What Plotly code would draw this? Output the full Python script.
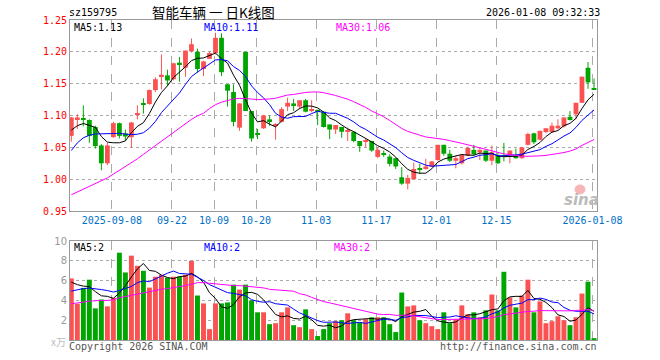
import plotly.graph_objects as go
import pandas as pd

# ---------------- data ----------------
holidays = ["2025-10-01", "2025-10-02", "2025-10-03", "2025-10-06", "2025-10-07",
            "2025-10-08", "2026-01-01", "2026-01-02"]
dates = [d.strftime("%Y-%m-%d") for d in pd.bdate_range("2025-08-28", "2026-01-08")
         if d.strftime("%Y-%m-%d") not in holidays]

opens = [1.068, 1.094, 1.096, 1.093, 1.082, 1.053, 1.025, 1.066, 1.088, 1.072,
         1.066, 1.101, 1.119, 1.118, 1.140, 1.162, 1.163, 1.157, 1.183, 1.175,
         1.201, 1.200, 1.173, 1.189, 1.198, 1.222, 1.149, 1.137, 1.081, 1.200,
         1.107, 1.072, 1.080, 1.094, 1.084, 1.090, 1.114, 1.119, 1.114, 1.124,
         1.108, 1.109, 1.106, 1.086, 1.078, 1.082, 1.0745, 1.0745, 1.060, 1.059,
         1.060, 1.035, 1.040, 1.0355, 1.033, 1.003, 0.993, 1.000, 1.017, 1.016,
         1.020, 1.030, 1.054, 1.040, 1.029, 1.025, 1.037, 1.046, 1.042, 1.045,
         1.029, 1.037, 1.036, 1.037, 1.037, 1.033, 1.054, 1.072, 1.062, 1.074,
         1.074, 1.080, 1.083, 1.098, 1.102, 1.120, 1.175, 1.142]
highs = [1.098, 1.102, 1.116, 1.094, 1.084, 1.055, 1.057, 1.090, 1.089, 1.078,
         1.090, 1.116, 1.127, 1.141, 1.160, 1.196, 1.172, 1.183, 1.192, 1.202,
         1.221, 1.205, 1.186, 1.200, 1.230, 1.229, 1.149, 1.149, 1.119, 1.200,
         1.107, 1.079, 1.101, 1.100, 1.088, 1.113, 1.128, 1.126, 1.124, 1.126,
         1.124, 1.109, 1.107, 1.086, 1.085, 1.082, 1.081, 1.0745, 1.060, 1.064,
         1.060, 1.050, 1.045, 1.039, 1.033, 1.019, 1.007, 1.026, 1.024, 1.032,
         1.028, 1.054, 1.054, 1.046, 1.037, 1.039, 1.051, 1.054, 1.050, 1.045,
         1.053, 1.041, 1.057, 1.045, 1.048, 1.050, 1.073, 1.073, 1.076, 1.080,
         1.089, 1.094, 1.097, 1.107, 1.120, 1.161, 1.184, 1.158]
lows = [1.059, 1.079, 1.083, 1.057, 1.048, 1.014, 1.022, 1.065, 1.064, 1.060,
        1.049, 1.094, 1.103, 1.117, 1.137, 1.141, 1.147, 1.155, 1.153, 1.161,
        1.199, 1.167, 1.162, 1.189, 1.196, 1.162, 1.114, 1.083, 1.076, 1.107,
        1.059, 1.063, 1.079, 1.084, 1.062, 1.089, 1.107, 1.107, 1.110, 1.105,
        1.105, 1.085, 1.081, 1.063, 1.071, 1.065, 1.060, 1.058, 1.043, 1.050,
        1.043, 1.033, 1.035, 1.020, 1.016, 0.991, 0.984, 1.000, 1.008, 1.015,
        1.019, 1.029, 1.037, 1.027, 1.017, 1.023, 1.036, 1.037, 1.030, 1.027,
        1.022, 1.024, 1.028, 1.025, 1.032, 1.032, 1.053, 1.055, 1.061, 1.072,
        1.073, 1.078, 1.081, 1.092, 1.094, 1.120, 1.142, 1.140]
closes = [1.097, 1.097, 1.093, 1.068, 1.052, 1.025, 1.053, 1.088, 1.068, 1.067,
          1.089, 1.103, 1.117, 1.140, 1.157, 1.164, 1.155, 1.182, 1.180, 1.202,
          1.212, 1.173, 1.185, 1.198, 1.222, 1.168, 1.139, 1.090, 1.119, 1.107,
          1.064, 1.070, 1.100, 1.091, 1.086, 1.110, 1.120, 1.115, 1.124, 1.106,
          1.109, 1.106, 1.082, 1.078, 1.085, 1.0745, 1.076, 1.060, 1.052, 1.060,
          1.045, 1.046, 1.0385, 1.024, 1.020, 0.993, 1.002, 1.016, 1.016, 1.020,
          1.028, 1.054, 1.040, 1.029, 1.033, 1.038, 1.049, 1.039, 1.046, 1.029,
          1.042, 1.025, 1.035, 1.045, 1.033, 1.050, 1.071, 1.058, 1.076, 1.080,
          1.084, 1.084, 1.097, 1.093, 1.120, 1.161, 1.152, 1.141]
volumes = [6.23, 3.67, 5.27, 6.1, 3.2, 4.1, 3.4, 4.27, 8.83, 6.83,
           8.53, 7.5, 7.0, 5.3, 6.4, 6.6, 6.3, 6.4, 6.4, 6.6,
           8.0, 4.5, 3.7, 1.1, 3.7, 3.7, 3.8, 5.6, 5.1, 5.6,
           4.0, 2.8, 2.8, 1.6, 1.7, 2.8, 3.3, 1.5, 1.3, 3.1,
           1.1, 0.4, 1.1, 1.7, 1.9, 2.0, 2.7, 2.0, 1.8, 2.1,
           2.3, 2.3, 2.3, 1.6, 0.8, 4.8, 3.4, 3.5, 2.0, 1.7,
           1.4, 1.1, 2.8, 1.7, 2.1, 3.5, 2.6, 2.8, 2.3, 3.0,
           4.6, 3.0, 6.9, 4.3, 3.3, 4.5, 6.1, 2.8, 3.9, 1.7,
           1.9, 2.4, 2.0, 1.5, 2.3, 4.7, 5.9, 0.1]

# moving-average values before enough in-window history exists
ma5_head = [1.077, 1.084, 1.0875, 1.085]
ma10_head = [1.045, 1.057, 1.065, 1.069, 1.071, 1.071, 1.071, 1.072, 1.072]
ma30_head = [0.9755, 0.980, 0.984, 0.9885, 0.993, 0.997, 1.002, 1.008, 1.014, 1.019,
             1.025, 1.032, 1.039, 1.046, 1.053, 1.059, 1.067, 1.073, 1.080, 1.0875,
             1.094, 1.0995, 1.1035, 1.111, 1.117, 1.121, 1.124, 1.126, 1.127]
vma5_head = [5.85, 5.6, 5.45, 5.4]
vma10_head = [4.95, 5.1, 5.2, 5.25, 5.2, 5.1, 5.0, 4.85, 5.0]
vma30_head = [3.67, 3.73, 3.83, 3.93, 4.0, 4.0, 4.0, 4.07, 4.27, 4.4,
              4.53, 4.67, 4.8, 4.93, 5.07, 5.13, 5.2, 5.27, 5.4, 5.5,
              5.67, 5.8, 5.8, 5.73, 5.67, 5.6, 5.53, 5.5, 5.5]

tick_dates = ["2025-09-08", "2025-09-22", "2025-10-09", "2025-10-20", "2025-11-03",
              "2025-11-17", "2025-12-01", "2025-12-15", "2026-01-08"]
tick_text = ["2025-09-08", "09-22", "10-09", "10-20", "11-03",
             "11-17", "12-01", "12-15", "2026-01-08"]
price_ticks = [0.95, 1.00, 1.05, 1.10, 1.15, 1.20, 1.25]
vol_ticks = [2, 4, 6, 8, 10]
vol_legend = ["MA5:2", "MA10:2", "MA30:2"]

# ---------------- derived ----------------
RED = "#FA5252"
GREEN = "#00A600"
n = len(dates)
xs = list(range(n))


def ma(series, w, head):
    out = list(head)
    for i in range(w - 1, len(series)):
        out.append(sum(series[i - w + 1:i + 1]) / w)
    return out


ma5 = ma(closes, 5, ma5_head)
ma10 = ma(closes, 10, ma10_head)
ma30 = ma(closes, 30, ma30_head)
vma5 = ma(volumes, 5, vma5_head)
vma10 = ma(volumes, 10, vma10_head)
vma30 = ma(volumes, 30, vma30_head)

up = [c >= o for o, c in zip(opens, closes)]
colors = [RED if u else GREEN for u in up]
base = [min(o, c) for o, c in zip(opens, closes)]
body = [max(abs(c - o), 0.0016) for o, c in zip(opens, closes)]

fig = go.Figure()

# wicks
for flag, col in ((True, RED), (False, GREEN)):
    wx, wy = [], []
    for i in xs:
        if up[i] == flag:
            wx += [i, i, None]
            wy += [lows[i], highs[i], None]
    fig.add_trace(go.Scatter(x=wx, y=wy, mode="lines", line=dict(color=col, width=1),
                             hoverinfo="skip", xaxis="x", yaxis="y"))

# bodies
fig.add_trace(go.Bar(x=xs, y=body, base=base, width=0.8, marker=dict(color=colors, line=dict(width=0)),
                     hovertext=dates, xaxis="x", yaxis="y"))

for vals, col in ((ma5, "black"), (ma10, "#0000FF"), (ma30, "#FF00FF")):
    fig.add_trace(go.Scatter(x=xs, y=vals, mode="lines", line=dict(color=col, width=1),
                             hoverinfo="skip", xaxis="x", yaxis="y"))

# volume
fig.add_trace(go.Bar(x=xs, y=volumes, width=0.82, marker=dict(color=colors, line=dict(width=0)),
                     hovertext=dates, xaxis="x2", yaxis="y2"))
for vals, col in ((vma5, "black"), (vma10, "#0000FF"), (vma30, "#FF00FF")):
    fig.add_trace(go.Scatter(x=xs, y=vals, mode="lines", line=dict(color=col, width=1),
                             hoverinfo="skip", xaxis="x2", yaxis="y2"))

tickpos = [dates.index(d) - 0.25 for d in tick_dates]
MONO = "DejaVu Sans Mono"
GRID = "#AAAAAA"
BORDER = "#999999"

common_x = dict(range=[-0.22, 87.5], tickvals=tickpos, showgrid=True, gridcolor=GRID,
                griddash="dash", gridwidth=1, showline=True, mirror=True, linecolor=BORDER,
                linewidth=1, ticks="", zeroline=False, fixedrange=True)

fig.update_layout(
    width=660, height=360,
    margin=dict(l=70, r=63, t=20, b=20),
    paper_bgcolor="white", plot_bgcolor="white",
    showlegend=False, barmode="overlay",
    font=dict(family=MONO, size=10, color="black"),
    xaxis=dict(**common_x, anchor="y", ticktext=tick_text,
               tickfont=dict(family=MONO, size=10, color="#0070C8")),
    xaxis2=dict(**common_x, anchor="y2", matches="x", showticklabels=False),
    yaxis=dict(domain=[0.403, 1.0], range=[0.95, 1.25], tickvals=price_ticks,
               ticktext=["%.2f" % v for v in price_ticks],
               tickfont=dict(family=MONO, size=10, color="#FF0000"),
               showgrid=True, gridcolor=GRID, griddash="dot", showline=True, mirror=True,
               linecolor=BORDER, ticks="", zeroline=False, fixedrange=True),
    yaxis2=dict(domain=[0.0, 0.309], range=[0, 10], tickvals=vol_ticks,
                ticktext=[str(v) for v in vol_ticks],
                tickfont=dict(family="DejaVu Sans", size=10, color="#999999"),
                showgrid=True, gridcolor=GRID, griddash="dot", showline=True, mirror=True,
                linecolor=BORDER, ticks="", zeroline=False, fixedrange=True),
)


def px_x(x):
    return (x - 70) / 527.0


def px_y(y):
    return (340 - y) / 320.0


def note(text, x, y, color="black", xanchor="left", size=10, family=MONO):
    fig.add_annotation(text=text, x=px_x(x), y=px_y(y), xref="paper", yref="paper",
                       xanchor=xanchor, yanchor="middle", showarrow=False, borderpad=0,
                       font=dict(family=family, size=size, color=color))


note("sz159795", 68, 13)
note("智能车辆 一 日K线图", 213, 12, xanchor="center", size=13.5, family="Noto Sans CJK SC")
note("2026-01-08 09:32:33", 601, 13, xanchor="right")
note("MA5:%.2f" % ma5[-1], 73, 27.5)
note("MA10:%.2f" % ma10[-1], 203, 27.5, color="#0000FF")
note("MA30:%.2f" % ma30[-1], 335, 27.5, color="#FF00FF")
note(vol_legend[0], 73, 247)
note(vol_legend[1], 203, 247, color="#0000FF")
note(vol_legend[2], 333, 247, color="#FF00FF")
note("Copyright 2026 SINA.COM", 68, 346, color="#555555")
note("http://finance.sina.com.cn", 598, 346, color="#555555", xanchor="right")
note("x万", 67, 341, color="#BBBBBB", xanchor="right", size=10, family="Noto Sans CJK SC")
note("<b><i>sina</i></b>", 581, 200, color="#BBBBBB", xanchor="center", size=15, family="DejaVu Sans")
# faint logo eye of the watermark
fig.add_shape(type="circle", xref="paper", yref="paper",
              x0=px_x(575), x1=px_x(585), y0=px_y(194), y1=px_y(185),
              fillcolor="#F7B5B5", line=dict(color="#F7B5B5", width=1), layer="above")

fig.write_html("out.html", config={"displayModeBar": False},
               post_script="document.body.style.margin='0px';")
